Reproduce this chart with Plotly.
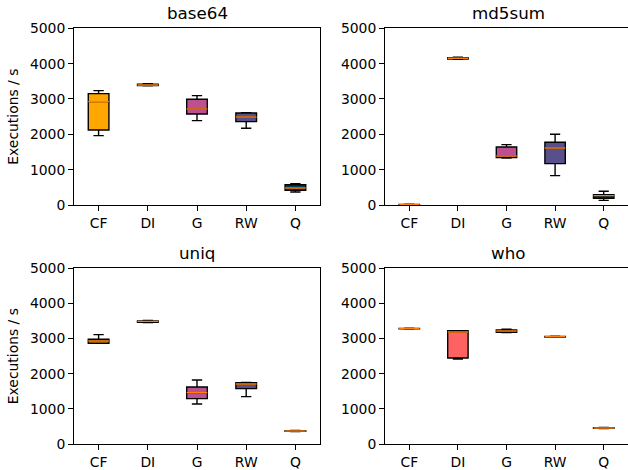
import plotly.graph_objects as go
from plotly.subplots import make_subplots

benchmarks = ["base64", "md5sum", "uniq", "who"]
categories = ["CF", "DI", "G", "RW", "Q"]
box_colors = ["#ffa600", "#ff6361", "#bc5090", "#58508d", "#003f5c"]
y_ticks = [0, 1000, 2000, 3000, 4000, 5000]

# per-benchmark box statistics (order follows categories)
base64_lower = [1962, 3370, 2387, 2170, 368]
base64_q1 = [2123, 3380, 2575, 2358, 415]
base64_median = [2925, 3396, 2717, 2491, 481]
base64_q3 = [3151, 3415, 2991, 2604, 575]
base64_upper = [3236, 3430, 3094, 2613, 604]

md5sum_lower = [0, 4120, 1330, 830, 132]
md5sum_q1 = [5, 4128, 1340, 1170, 189]
md5sum_median = [10, 4151, 1387, 1613, 264]
md5sum_q3 = [15, 4170, 1642, 1774, 292]
md5sum_upper = [20, 4180, 1708, 2000, 387]

uniq_lower = [2865, 3455, 1139, 1347, 355]
uniq_q1 = [2865, 3465, 1290, 1575, 360]
uniq_median = [2932, 3491, 1461, 1708, 370]
uniq_q3 = [2979, 3505, 1622, 1745, 378]
uniq_upper = [3112, 3515, 1822, 1755, 385]

who_lower = [3270, 2419, 3169, 3040, 440]
who_q1 = [3275, 2448, 3178, 3045, 445]
who_median = [3283, 3188, 3216, 3055, 455]
who_q3 = [3290, 3226, 3245, 3062, 462]
who_upper = [3295, 3226, 3264, 3068, 470]

stats = {
    "base64": (base64_lower, base64_q1, base64_median, base64_q3, base64_upper),
    "md5sum": (md5sum_lower, md5sum_q1, md5sum_median, md5sum_q3, md5sum_upper),
    "uniq": (uniq_lower, uniq_q1, uniq_median, uniq_q3, uniq_upper),
    "who": (who_lower, who_q1, who_median, who_q3, who_upper),
}

FONT = "DejaVu Sans"
W, H = 628, 470
fig = make_subplots(rows=2, cols=2)

positions = [(1, 1), (1, 2), (2, 1), (2, 2)]
for bi, name in enumerate(benchmarks):
    r, c = positions[bi]
    lo, q1, md, q3, up = stats[name]
    for i, cat in enumerate(categories):
        fig.add_trace(go.Box(
            x=[cat], q1=[q1[i]], median=[md[i]], q3=[q3[i]],
            lowerfence=[lo[i]], upperfence=[up[i]],
            fillcolor=box_colors[i], line=dict(color="black", width=1.4),
            width=0.42, whiskerwidth=0.5, boxpoints=False,
            showlegend=False, hoverinfo="skip"), row=r, col=c)
        # median line overlay in orange
        fig.add_trace(go.Box(
            x=[cat], q1=[md[i]], median=[md[i]], q3=[md[i]],
            lowerfence=[md[i]], upperfence=[md[i]],
            fillcolor="rgba(0,0,0,0)", line=dict(color="#ff7f0e", width=1.4),
            width=0.42, whiskerwidth=0, boxpoints=False,
            showlegend=False, hoverinfo="skip"), row=r, col=c)

xdom = {1: [74 / W, 320 / W], 2: [385 / W, 1.0]}
ydom = {1: [(H - 205) / H, (H - 28.3) / H], 2: [(H - 444) / H, (H - 268.3) / H]}

axis_common = dict(showline=True, linecolor="black", linewidth=1.1, ticks="outside",
                   ticklen=4.9, tickwidth=1.1, tickcolor="black", showgrid=False,
                   zeroline=False, automargin=False,
                   tickfont=dict(family=FONT, size=13.9, color="black"))

for bi, name in enumerate(benchmarks):
    r, c = positions[bi]
    fig.update_xaxes(domain=xdom[c], type="category", categoryorder="array",
                     categoryarray=categories, range=[-0.5, 4.5], mirror=True,
                     row=r, col=c, **axis_common)
    fig.update_yaxes(domain=ydom[r], range=[0, 5000], tickvals=y_ticks,
                     mirror=(c == 1), row=r, col=c, **axis_common)
    if c == 1:
        fig.update_yaxes(title=dict(text="Executions / s", standoff=8,
                                    font=dict(family=FONT, size=13.9, color="black")),
                         row=r, col=c)
    fig.add_annotation(text=name, xref="paper", yref="paper",
                       x=(xdom[c][0] + xdom[c][1]) / 2 if c == 1 else (385 + 246 / 2) / W,
                       y=ydom[r][1], yanchor="bottom", xanchor="center", yshift=3,
                       showarrow=False, font=dict(family=FONT, size=16.7, color="black"))

fig.update_layout(template="none", width=W, height=H, margin=dict(l=0, r=0, t=0, b=0),
                  paper_bgcolor="white", plot_bgcolor="white", boxmode="overlay",
                  font=dict(family=FONT, color="black"))

fig.write_html("out.html", config={"displayModeBar": False},
               post_script="document.body.style.margin='0';document.body.style.overflow='hidden';")
